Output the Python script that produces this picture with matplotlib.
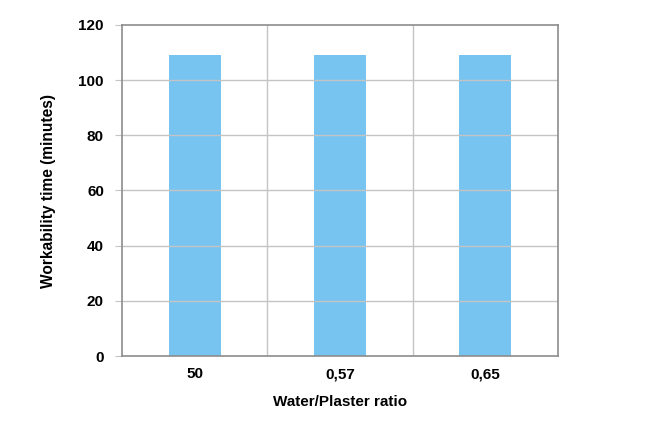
import matplotlib
matplotlib.use('Agg')
import matplotlib.pyplot as plt
import numpy as np

# data
categories = ['50', '0,57', '0,65']
workability = [109, 109, 109]
y_ticks = [0, 20, 40, 60, 80, 100, 120]

BAR_COLOR = '#76c4ef'
GRID_COLOR = '#c4c4c4'
SPINE_COLOR = '#8c8c8c'

plt.rcParams['font.family'] = ['Liberation Sans', 'DejaVu Sans']

fig = plt.figure(figsize=(6.48, 4.23), dpi=100)
ax = fig.add_axes([122 / 648, 1 - 356 / 423, 436 / 648, 331 / 423])

x = np.arange(len(categories))
ax.bar(x, workability, width=0.36, color=BAR_COLOR, zorder=1)

ax.set_xlim(-0.5, len(categories) - 0.5)
ax.set_ylim(0, 120)
ax.set_yticks(y_ticks)
ax.set_yticklabels([str(v) for v in y_ticks], fontsize=11, fontweight='bold')
ax.set_xticks(x)
ax.set_xticklabels(categories, fontsize=11, fontweight='bold')

# grid: horizontal every 20, vertical between categories
for v in y_ticks[1:-1]:
    ax.axhline(v, color=GRID_COLOR, linewidth=1, zorder=2)
for b in np.arange(0.5, len(categories) - 0.5, 1):
    ax.axvline(b, color=GRID_COLOR, linewidth=1, zorder=0)

for s in ax.spines.values():
    s.set_color(SPINE_COLOR)
    s.set_linewidth(1.2)

ax.tick_params(axis='y', length=5, color=GRID_COLOR, pad=8)
ax.tick_params(axis='x', length=0, pad=8)

ax.set_xlabel('Water/Plaster ratio', fontsize=11, fontweight='bold', labelpad=10)
ax.set_ylabel('Workability time (minutes)', fontsize=11.2, fontweight='bold', labelpad=16)

plt.savefig('out.png', dpi=100)
